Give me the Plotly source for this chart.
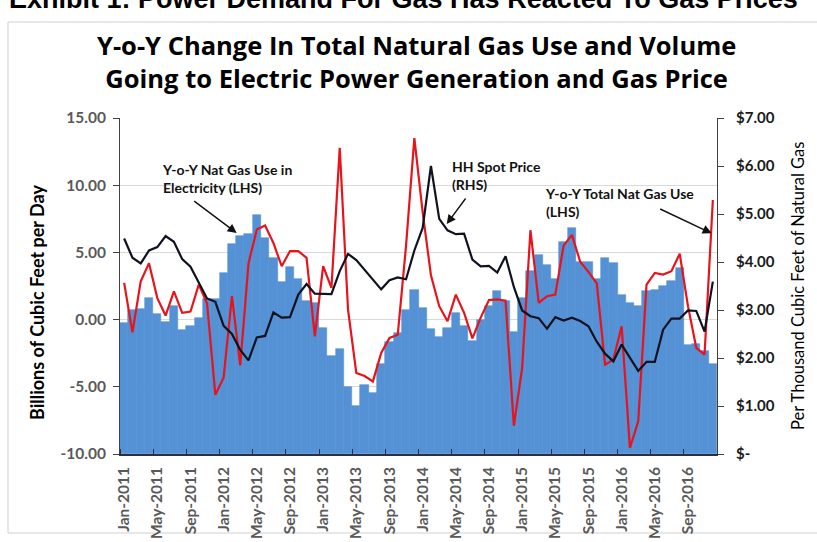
import plotly.graph_objects as go

# ---------------- data ----------------
month_names = ["Jan", "Feb", "Mar", "Apr", "May", "Jun",
               "Jul", "Aug", "Sep", "Oct", "Nov", "Dec"]
years = [2011, 2012, 2013, 2014, 2015, 2016]
months = [f"{m}-{y}" for y in years for m in month_names]

# Y-o-Y change in natural gas use in electricity (Bcf/d, LHS) - blue columns
elec_use = [-0.25, 0.7, 0.8, 1.6, 0.4, -0.15, 1.0, -0.75, -0.45, 0.1, 1.5, 1.5,
            3.45, 5.65, 6.2, 6.4, 7.75, 6.05, 4.6, 2.8, 3.95, 3.0, 1.4, 1.2,
            -0.6, -2.7, -2.2, -5.0, -6.4, -4.85, -5.45, -3.3, -1.7, -1.0, 0.75, 2.2,
            0.9, -0.7, -1.3, -0.6, 0.5, -0.5, -1.6, -0.05, 1.0, 2.1, 1.4, -0.9,
            1.6, 3.6, 4.8, 4.1, 3.0, 5.8, 6.8, 4.3, 4.3, 3.0, 4.6, 4.2,
            1.8, 1.2, 1.0, 2.1, 2.2, 2.5, 2.85, 3.85, -1.9, -1.8, -2.3, -3.3]

# Y-o-Y change in total natural gas use (Bcf/d, LHS) - red line
total_use = [2.73, -0.95, 2.85, 4.2, 1.6, 0.3, 2.1, 0.5, 0.6, 2.6, 1.2, -5.6,
             -4.3, 1.75, -3.4, 4.2, 6.7, 7.0, 5.7, 3.97, 5.1, 5.1, 4.6, -1.24,
             3.97, 2.36, 12.78, 0.74, -3.97, -4.2, -4.6, -2.48, -1.36, -1.12, 5.5, 13.5,
             8.0, 3.3, 1.0, -0.12, 1.86, 0.5, -1.4, 0.15, 1.45, 1.5, 1.4, -7.9,
             -3.6, 6.65, 1.25, 1.74, 1.86, 5.5, 6.3, 4.3, 3.55, 2.7, -3.35, -2.98,
             -0.5, -9.55, -7.57, 2.6, 3.47, 3.35, 3.6, 4.9, 1.0, -2.1, -2.6, 8.9]

# Henry Hub spot price ($/Mcf, RHS) - black line
hh_price = [4.49, 4.09, 3.97, 4.24, 4.31, 4.54, 4.42, 4.06, 3.90, 3.57, 3.24, 3.17,
            2.67, 2.50, 2.17, 1.95, 2.43, 2.46, 2.95, 2.84, 2.85, 3.32, 3.54, 3.34,
            3.33, 3.33, 3.81, 4.17, 4.04, 3.83, 3.62, 3.43, 3.62, 3.68, 3.64, 4.24,
            4.71, 6.00, 4.90, 4.66, 4.58, 4.59, 4.05, 3.91, 3.92, 3.78, 4.12, 3.48,
            2.99, 2.87, 2.83, 2.61, 2.85, 2.78, 2.84, 2.77, 2.66, 2.34, 2.09, 1.93,
            2.28, 1.99, 1.73, 1.92, 1.92, 2.59, 2.82, 2.82, 2.99, 2.98, 2.55, 3.59]

left_ticks = [-10, -5, 0, 5, 10, 15]
left_tick_text = ["-10.00", "-5.00", "0.00", "5.00", "10.00", "15.00"]
right_ticks = [0, 1, 2, 3, 4, 5, 6, 7]
right_tick_text = ["$-", "$1.00", "$2.00", "$3.00", "$4.00", "$5.00", "$6.00", "$7.00"]
label_step = 4
tick_labels = months[::label_step]

# ---------------- styling ----------------
FONT = "Lato"
BLUE = "#5591d5"
RED = "#e8141c"
BLACK = "#10131f"
GRAY_TXT = "#595959"
LEFT_MIN, LEFT_MAX = -10, 15

x_idx = list(range(len(months)))
label_pos = x_idx[::label_step]
boundary_pos = [p - 0.5 for p in label_pos]

fig = go.Figure()

fig.add_trace(go.Bar(
    x=x_idx, y=[v - LEFT_MIN for v in elec_use], base=LEFT_MIN,
    marker=dict(color=BLUE, line=dict(width=0.6, color=BLUE)),
    width=1.0, yaxis="y", name="Y-o-Y Nat Gas Use in Electricity (LHS)",
))
fig.add_trace(go.Scatter(
    x=x_idx, y=total_use, mode="lines", yaxis="y",
    line=dict(color=RED, width=2.2), name="Y-o-Y Total Nat Gas Use (LHS)",
))
fig.add_trace(go.Scatter(
    x=x_idx, y=hh_price, mode="lines", yaxis="y2",
    line=dict(color=BLACK, width=2.2), name="HH Spot Price (RHS)",
))

PL, PR, PT, PB = 120, 717, 118, 454
W, H = 817, 542


def px(xp):
    return (xp - PL) / (PR - PL)


def py(yp):
    return (PB - yp) / (PB - PT)


fig.update_layout(
    width=W, height=H, autosize=False,
    margin=dict(l=PL, r=W - PR, t=PT, b=H - PB, autoexpand=False),
    paper_bgcolor="white", plot_bgcolor="white",
    showlegend=False, bargap=0,
    font=dict(family=FONT, color="#222"),
    xaxis=dict(
        range=[-0.5, len(months) - 0.5], automargin=False,
        tickmode="array", tickvals=label_pos, ticktext=tick_labels,
        tickangle=-90, ticks="", showgrid=False, zeroline=False,
        showline=True, linecolor="#2a3040", linewidth=1.5,
        ticklabelstandoff=5,
        tickfont=dict(family=FONT, size=15.5, color=GRAY_TXT, weight="bold"),
        minor=dict(tickmode="array", tickvals=boundary_pos, ticks="inside",
                   ticklen=5, tickcolor="#2a3040", tickwidth=1, showgrid=False),
    ),
    yaxis=dict(
        range=[LEFT_MIN, LEFT_MAX], tickmode="array", automargin=False,
        tickvals=left_ticks, ticktext=left_tick_text,
        showgrid=True, gridcolor="#d9d9d9", gridwidth=1, zeroline=False,
        showline=True, linecolor="#404040", linewidth=1,
        ticks="outside", ticklen=6, tickcolor="#404040",
        ticklabelstandoff=4,
        tickfont=dict(family=FONT, size=15.5, color=GRAY_TXT, weight="bold"),
    ),
    yaxis2=dict(
        range=[0, 7], overlaying="y", side="right", automargin=False,
        tickmode="array", tickvals=right_ticks, ticktext=right_tick_text,
        showgrid=False, zeroline=False,
        showline=True, linecolor="#404040", linewidth=1,
        ticks="outside", ticklen=6, tickcolor="#404040",
        ticklabelstandoff=9,
        tickfont=dict(family=FONT, size=15, color="#1a1a1a", weight="bold"),
    ),
)

annotations = [
    # exhibit heading, cropped at the very top as in the source image
    dict(text="<b>Exhibit 1: Power Demand For Gas Has Reacted To Gas Prices</b>",
         x=px(403), y=py(-1), xref="paper", yref="paper", showarrow=False,
         xanchor="center", yanchor="middle",
         font=dict(family="Liberation Sans", size=27, color="#000")),
    # chart title
    dict(text="<b>Y-o-Y Change In Total Natural Gas Use and Volume<br>"
              "Going to Electric Power Generation and Gas Price</b>",
         x=px(416), y=py(62), xref="paper", yref="paper", showarrow=False,
         xanchor="center", yanchor="middle",
         font=dict(family="Open Sans", size=25.5, color="#000")),
    # axis titles
    dict(text="<b>Billions of Cubic Feet per Day</b>",
         x=px(37), y=py(303), xref="paper", yref="paper", showarrow=False,
         textangle=-90, xanchor="center", yanchor="middle",
         font=dict(family=FONT, size=18, color="#000")),
    dict(text="Per Thousand Cubic Feet of Natural Gas",
         x=px(798), y=py(286), xref="paper", yref="paper", showarrow=False,
         textangle=-90, xanchor="center", yanchor="middle",
         font=dict(family=FONT, size=16.5, color="#000")),
    # series labels
    dict(text="<b>Y-o-Y Nat Gas Use in<br>Electricity (LHS)</b>",
         x=px(160), y=py(178), xref="paper", yref="paper", showarrow=False,
         xanchor="left", yanchor="middle", align="left",
         font=dict(family=FONT, size=14, color="#111")),
    dict(text="<b>HH Spot Price<br>(RHS)</b>",
         x=px(450), y=py(175), xref="paper", yref="paper", showarrow=False,
         xanchor="left", yanchor="middle", align="left",
         font=dict(family=FONT, size=14, color="#111")),
    dict(text="<b>Y-o-Y Total Nat Gas Use<br>(LHS)</b>",
         x=px(543), y=py(202), xref="paper", yref="paper", showarrow=False,
         xanchor="left", yanchor="middle", align="left",
         font=dict(family=FONT, size=14, color="#111")),
]

arrows = [((236.7, 233), (-44, -33)),
          ((446.7, 224), (20, -27)),
          ((711.7, 233.3), (-53, -25))]
for (tx, ty), (ax, ay) in arrows:
    annotations.append(dict(
        text="", x=px(tx), y=py(ty), xref="paper", yref="paper",
        showarrow=True, ax=ax, ay=ay, arrowhead=2, arrowsize=1.3,
        arrowwidth=1.4, arrowcolor="#111", standoff=0))

fig.update_layout(annotations=annotations)

# light frame of the chart object
fig.add_shape(type="rect", xref="paper", yref="paper",
              x0=px(8), x1=px(840), y0=py(533), y1=py(22),
              line=dict(color="#d0d0d0", width=1), fillcolor="rgba(0,0,0,0)",
              layer="below")

fig.write_html("out.html",
               config={"displayModeBar": False},
               post_script="document.body.style.margin='0';"
                           "document.body.style.overflow='hidden';")
